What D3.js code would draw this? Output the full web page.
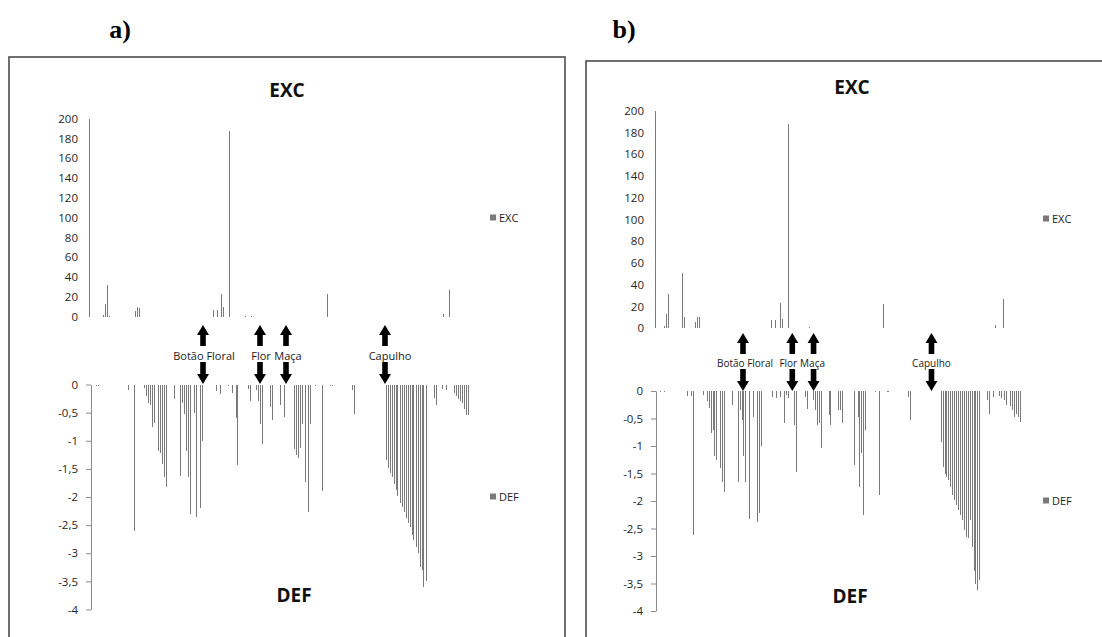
<!DOCTYPE html>
<html lang="pt">
<head>
<meta charset="utf-8">
<title>EXC / DEF</title>
<script src="https://d3js.org/d3.v7.min.js"></script>
<style>
  body { margin: 0; background: #fff; }
  text { font-family: "Open Sans", "DejaVu Sans", sans-serif; }
</style>
</head>
<body>
<script>
// number of days on the category axis
var N = 190;

var excTicks = [0, 20, 40, 60, 80, 100, 120, 140, 160, 180, 200];
var defTicks = [0, -0.5, -1, -1.5, -2, -2.5, -3, -3.5, -4];
var stages = ["Botão Floral", "Flor", "Maça", "Capulho"];

// panel a
var excDaysA = [0, 7, 8, 9, 10, 23, 24, 25, 62, 64, 66, 67, 70, 78, 81, 119, 177, 180];
var excValsA = [200, 2, 13, 32, 1, 6, 9.5, 9, 7, 7, 22.5, 9.5, 188, 1, 1, 23, 3, 27];
var defDaysA = [2, 3, 18, 21, 26, 27, 28, 29, 30, 31, 33, 34, 35, 36, 37,
  41, 44, 45, 46, 47, 48, 49, 51, 52, 54, 55,
  62, 64, 68, 70, 72, 73, 78, 79, 82, 83, 84, 85, 89, 90, 94, 96,
  101, 102, 103, 104, 105, 107, 108, 109, 112, 115, 119, 120, 130, 131,
  147, 148, 149, 150, 151, 152, 153, 154, 155, 156, 157, 158, 159, 160, 161, 162, 163, 164, 165, 166, 167,
  171, 172, 175, 177, 181, 182, 183, 184, 185, 186, 187, 188];
var defValsA = [-0.03, -0.02, -0.1, -2.6, -0.06, -0.2, -0.33, -0.36, -0.76, -0.68, -1.19, -1.22, -1.41, -1.64, -1.82,
  -0.25, -1.63, -0.33, -0.52, -1.19, -1.64, -2.3, -0.5, -2.36, -2.2, -1.0,
  -0.12, -0.16, -0.03, -0.15, -0.6, -1.43, -0.08, -0.3, -0.1, -0.3, -0.7, -1.05, -0.4, -0.63, -0.36, -0.58,
  -1.15, -1.25, -1.3, -1.13, -0.7, -1.73, -2.26, -0.71, -0.02, -1.9, -0.02, -0.02, -0.1, -0.52,
  -1.34, -1.49, -1.58, -1.64, -1.76, -1.88, -1.99, -2.11, -2.17, -2.26, -2.38, -2.47, -2.53, -2.68, -2.77, -2.89, -3.0, -3.24, -3.3, -3.6, -3.5,
  -0.24, -0.36, -0.08, -0.1, -0.15, -0.2, -0.26, -0.3, -0.33, -0.43, -0.54, -0.54];
var stageDaysA = [55.5, 84, 97, 146.5];

// panel b
var excDaysB = [0, 5, 6, 7, 14, 15, 21, 22, 23, 60, 62, 65, 66, 69, 80, 118, 176, 180];
var excValsB = [200, 2, 13, 31.5, 51, 10, 6, 10, 10, 7.7, 7.7, 23, 8.6, 187.5, 1.5, 22, 3, 26.6];
var defDaysB = [2, 4, 16, 18, 19, 24, 26, 27, 28, 29, 30, 31, 33, 34, 35,
  39, 42, 43, 44, 45, 46, 48, 50, 52, 53, 54,
  60, 62, 64, 66, 67, 68, 71, 72, 77, 78, 81, 82, 83, 84, 85, 89, 90, 94, 95, 96,
  102, 104, 105, 106, 107, 108, 113, 115, 119, 120, 130, 131,
  147, 148, 149, 150, 151, 152, 153, 154, 155, 156, 157, 158, 159, 160, 161, 162, 163, 164, 165, 166, 167,
  171, 172, 174, 177, 178, 180, 181, 183, 184, 185, 186, 187, 188];
var defValsB = [-0.02, -0.02, -0.09, -0.09, -2.62, -0.07, -0.19, -0.3, -0.77, -0.71, -1.19, -1.25, -1.4, -1.65, -1.83,
  -0.25, -1.65, -0.35, -0.53, -1.19, -1.65, -2.33, -0.47, -2.38, -2.22, -1.0,
  -0.1, -0.13, -0.1, -0.59, -0.07, -0.13, -0.62, -1.47, -0.1, -0.33, -0.16, -0.35, -0.62, -0.59, -1.04, -0.44, -0.62, -0.35, -0.35, -0.59,
  -1.35, -0.47, -1.74, -1.13, -2.25, -0.71, -0.02, -1.89, -0.02, -0.02, -0.1, -0.53,
  -0.92, -1.38, -1.5, -1.56, -1.62, -1.74, -1.89, -1.98, -2.07, -2.16, -2.25, -2.35, -2.53, -2.65, -2.68, -2.35, -2.83, -3.28, -3.5, -3.62, -3.44,
  -0.16, -0.41, -0.1, -0.09, -0.13, -0.16, -0.25, -0.28, -0.35, -0.47, -0.41, -0.47, -0.56];
var stageDaysB = [44.5, 70, 81, 142];

var W = 1102, H = 637;
var barColor = "#7a7a7a";

var panels = [
  {
    letter: "a)", letterX: 120,
    frame: { x: 9, y: 57, w: 556, h: 640 },
    exc: { days: excDaysA, vals: excValsA, x0: 88.3, x1: 468.3, yTop: 118.7, yZero: 316.7, axisX: 88,
           titleX: 287, titleY: 97, legX: 490, legY: 218 },
    def: { days: defDaysA, vals: defValsA, x0: 91, x1: 471, yZero: 384.5, yBottom: 609.5,
           titleX: 294, titleY: 602, legX: 490, legY: 497 },
    stageDays: stageDaysA, labelShift: [1, 1, 2, 5], labelSize: 11,
    arrow: { upTop: 325, upBot: 346, labelY: 356, downTop: 362, downTip: 384 }
  },
  {
    letter: "b)", letterX: 624,
    frame: { x: 586, y: 61, w: 560, h: 640 },
    exc: { days: excDaysB, vals: excValsB, x0: 654.3, x1: 1021.6, yTop: 110.7, yZero: 328.3, axisX: 654,
           titleX: 852, titleY: 94, legX: 1043, legY: 219 },
    def: { days: defDaysB, vals: defValsB, x0: 656, x1: 1023.3, yZero: 391, yBottom: 611,
           titleX: 850, titleY: 603, legX: 1043, legY: 501 },
    stageDays: stageDaysB, labelShift: [2, -4, -1, 0], labelSize: 10,
    arrow: { upTop: 333, upBot: 354, labelY: 363, downTop: 369, downTip: 391 }
  }
];

var svg = d3.select("body").append("svg")
  .attr("width", W)
  .attr("height", H);

function commaFmt(d) {
  return String(d).replace(".", ",");
}

// thin one-pixel columns, snapped to the pixel grid
function drawBars(g, days, vals, x, y) {
  var rows = days.map(function(d, i) { return { day: d, val: vals[i] }; });
  g.selectAll("rect.bar")
    .data(rows)
    .enter().append("rect")
    .attr("class", "bar")
    .attr("shape-rendering", "crispEdges")
    .attr("x", function(d) { return Math.floor(x(d.day + 0.5)); })
    .attr("width", 1)
    .attr("y", function(d) { return Math.min(y(d.val), y(0)); })
    .attr("height", function(d) { return Math.max(1, Math.abs(y(d.val) - y(0))); })
    .attr("fill", barColor);
}

function legend(g, lx, ly, name) {
  g.append("rect")
    .attr("x", lx).attr("y", ly - 3.5)
    .attr("width", 6).attr("height", 6)
    .attr("fill", barColor);
  g.append("text")
    .attr("x", lx + 9).attr("y", ly + 4)
    .attr("font-size", 11)
    .attr("fill", "#222")
    .text(name);
}

function arrowPath(cx, top, bot, up) {
  var hw = 6, sw = 2.8, hh = 10;
  if (up) {
    return "M" + cx + "," + top +
      "L" + (cx + hw) + "," + (top + hh) + "L" + (cx + sw) + "," + (top + hh) +
      "L" + (cx + sw) + "," + bot + "L" + (cx - sw) + "," + bot +
      "L" + (cx - sw) + "," + (top + hh) + "L" + (cx - hw) + "," + (top + hh) + "Z";
  }
  return "M" + cx + "," + bot +
    "L" + (cx + hw) + "," + (bot - hh) + "L" + (cx + sw) + "," + (bot - hh) +
    "L" + (cx + sw) + "," + top + "L" + (cx - sw) + "," + top +
    "L" + (cx - sw) + "," + (bot - hh) + "L" + (cx - hw) + "," + (bot - hh) + "Z";
}

panels.forEach(function(p) {
  var g = svg.append("g");

  // outer frame
  g.append("rect")
    .attr("x", p.frame.x).attr("y", p.frame.y)
    .attr("width", p.frame.w).attr("height", p.frame.h)
    .attr("fill", "none")
    .attr("stroke", "#4d4d4d")
    .attr("stroke-width", 1.6);

  g.append("text")
    .attr("x", p.letterX).attr("y", 38)
    .attr("text-anchor", "middle")
    .style("font-family", "'Liberation Serif', 'Times New Roman', serif")
    .attr("font-weight", "bold")
    .attr("font-size", 26)
    .attr("fill", "#000")
    .text(p.letter);

  // EXC chart
  var e = p.exc;
  var xe = d3.scaleLinear().domain([0, N]).range([e.x0, e.x1]);
  var ye = d3.scaleLinear().domain([0, 200]).range([e.yZero, e.yTop]);
  var ge = g.append("g");
  drawBars(ge, e.days, e.vals, xe, ye);

  var axE = ge.append("g")
    .attr("transform", "translate(" + e.axisX + ",0)")
    .call(d3.axisLeft(ye).tickValues(excTicks).tickSize(0).tickPadding(10));
  axE.select(".domain").remove();
  axE.selectAll("text")
    .attr("font-size", 11.5)
    .attr("fill", "#262626")
    .style("font-family", "'Open Sans', sans-serif");

  ge.append("text")
    .attr("x", e.titleX).attr("y", e.titleY)
    .attr("text-anchor", "middle")
    .attr("font-weight", "bold")
    .attr("font-size", 19)
    .attr("fill", "#111")
    .text("EXC");
  legend(ge, e.legX, e.legY, "EXC");

  // DEF chart
  var f = p.def;
  var xf = d3.scaleLinear().domain([0, N]).range([f.x0, f.x1]);
  var yf = d3.scaleLinear().domain([-4, 0]).range([f.yBottom, f.yZero]);
  var gf = g.append("g");
  drawBars(gf, f.days, f.vals, xf, yf);

  var axF = gf.append("g")
    .attr("transform", "translate(" + f.x0 + ",0)")
    .call(d3.axisLeft(yf).tickValues(defTicks).tickFormat(commaFmt)
      .tickSize(5).tickSizeOuter(0).tickPadding(8));
  axF.select(".domain").attr("stroke", "#8c8c8c");
  axF.selectAll(".tick line").attr("stroke", "#8c8c8c");
  axF.selectAll("text")
    .attr("font-size", 11.5)
    .attr("fill", "#262626")
    .style("font-family", "'Open Sans', sans-serif");

  gf.append("text")
    .attr("x", f.titleX).attr("y", f.titleY)
    .attr("text-anchor", "middle")
    .attr("font-weight", "bold")
    .attr("font-size", 19)
    .attr("fill", "#111")
    .text("DEF");
  legend(gf, f.legX, f.legY, "DEF");

  // phenological stage markers
  var a = p.arrow;
  var ga = g.append("g");
  stages.forEach(function(name, i) {
    var cx = xf(p.stageDays[i] + 0.5);
    ga.append("path").attr("d", arrowPath(cx, a.upTop, a.upBot, true)).attr("fill", "#000");
    ga.append("path").attr("d", arrowPath(cx, a.downTop, a.downTip, false)).attr("fill", "#000");
    ga.append("text")
      .attr("x", cx + p.labelShift[i]).attr("y", a.labelY + 3.5)
      .attr("text-anchor", "middle")
      .attr("font-size", p.labelSize)
      .attr("fill", "#1a1a1a")
      .text(name);
  });
});
</script>
</body>
</html>
